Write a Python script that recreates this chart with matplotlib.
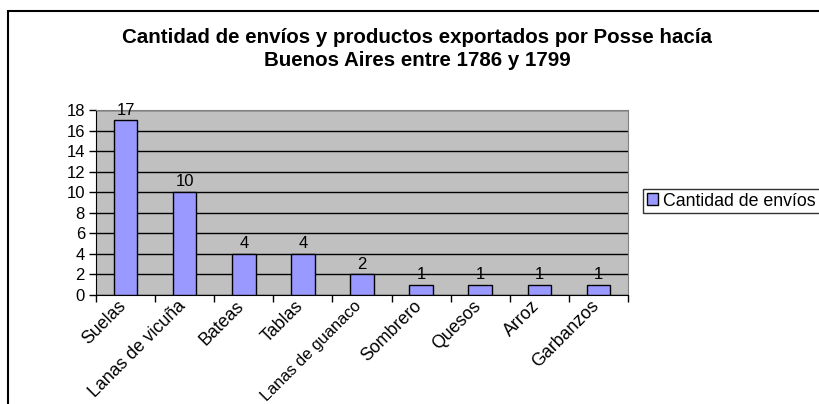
import matplotlib.pyplot as plt
from matplotlib.patches import Rectangle
from matplotlib.transforms import ScaledTranslation
import numpy as np

plt.rcParams['font.family'] = ['Liberation Sans', 'DejaVu Sans']

productos = ['Suelas', 'Lanas de vicuña', 'Bateas', 'Tablas', 'Lanas de guanaco',
             'Sombrero', 'Quesos', 'Arroz', 'Garbanzos']
envios = [17, 10, 4, 4, 2, 1, 1, 1, 1]

fig = plt.figure(figsize=(8.19, 4.04), dpi=100)
ax = fig.add_axes([96/819, 1 - 295/404, 532/819, 185/404])

x = np.arange(len(productos))
ax.set_facecolor('#C0C0C0')
ax.bar(x, envios, width=0.4, color='#9999FF', edgecolor='black',
       linewidth=1, label='Cantidad de envíos', zorder=3)
for xi, v in zip(x, envios):
    ax.annotate(str(v), (xi, v), xytext=(0, 2), textcoords='offset points',
                ha='center', va='bottom', fontsize=12)

ax.set_xlim(-0.5, len(productos) - 0.5)
ax.set_ylim(0, 18)
ax.set_yticks(range(0, 19, 2))
ax.tick_params(axis='y', labelsize=12, length=5, direction='out', width=1, pad=3)
ax.yaxis.grid(True, color='black', linewidth=1, zorder=1)
ax.set_axisbelow(True)

ax.set_xticks(x)
ax.set_xticklabels(productos, rotation=45, ha='right', rotation_mode='anchor', fontsize=12.75)
ax.tick_params(axis='x', which='major', length=0, pad=2)
shift = ScaledTranslation(-8/100, 0, fig.dpi_scale_trans)
for lbl in ax.get_xticklabels():
    lbl.set_transform(lbl.get_transform() + shift)
    if len(lbl.get_text()) > 15:
        lbl.set_fontsize(11.8)
ax.set_xticks(np.arange(-0.5, len(productos)), minor=True)
ax.tick_params(axis='x', which='minor', length=5, width=1, direction='out')

ax.spines['left'].set_color('black')
ax.spines['bottom'].set_color('black')
ax.spines['top'].set_color('#808080')
ax.spines['right'].set_color('#808080')

fig.text(417/819, 1 - 49/404, 'Cantidad de envíos y productos exportados por Posse hacía\nBuenos Aires entre 1786 y 1799',
         ha='center', va='center', fontsize=14.8, fontweight='bold', linespacing=1.25)

leg = ax.legend(loc='center left', bbox_to_anchor=(643/819, 1 - 201/404),
                bbox_transform=fig.transFigure, fontsize=12.75, frameon=True,
                fancybox=False, edgecolor='black', handlelength=0.65, handleheight=0.65,
                handletextpad=0.3, borderpad=0.2, borderaxespad=0)
leg.get_frame().set_linewidth(1)

fig.patches.append(Rectangle((8/819, -0.1), 1.2, 1.1 - 11/404, transform=fig.transFigure,
                             fill=False, edgecolor='black', linewidth=1.5))

fig.savefig('out.png', dpi=100)
